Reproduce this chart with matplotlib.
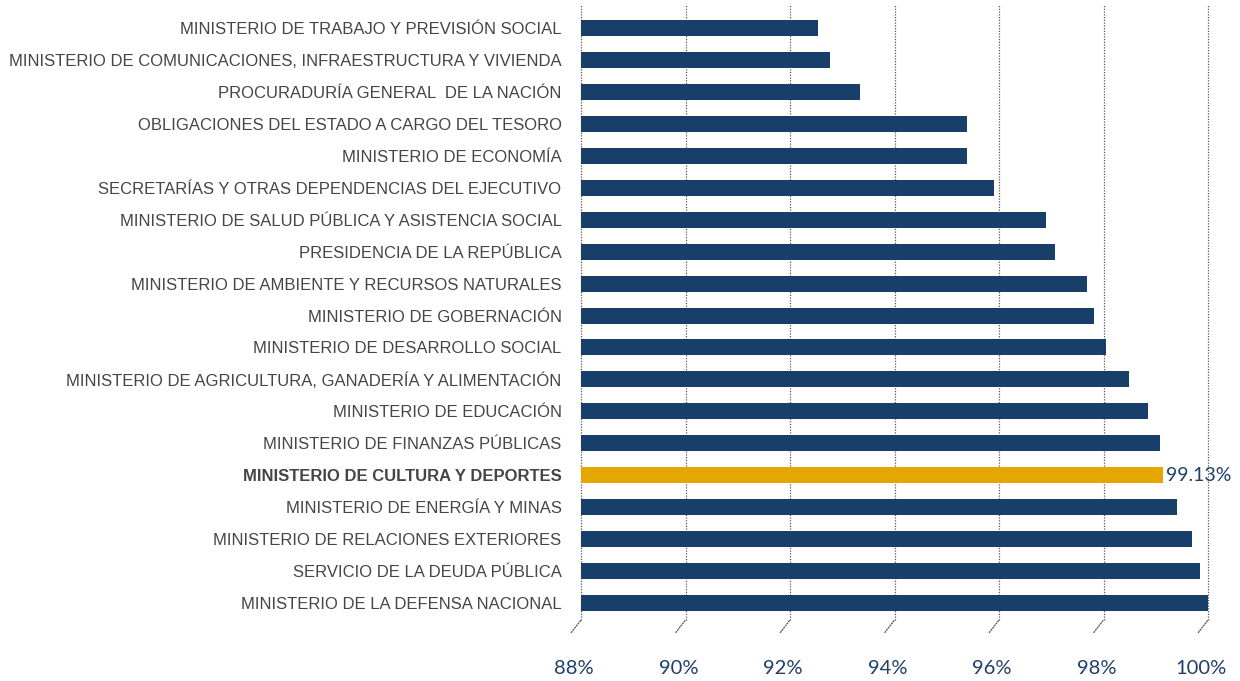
import matplotlib
matplotlib.use("Agg")
import matplotlib.pyplot as plt
from matplotlib.transforms import ScaledTranslation

categories = [
    "MINISTERIO DE TRABAJO Y PREVISIÓN SOCIAL",
    "MINISTERIO DE COMUNICACIONES, INFRAESTRUCTURA Y VIVIENDA",
    "PROCURADURÍA GENERAL  DE LA NACIÓN",
    "OBLIGACIONES DEL ESTADO A CARGO DEL TESORO",
    "MINISTERIO DE ECONOMÍA",
    "SECRETARÍAS Y OTRAS DEPENDENCIAS DEL EJECUTIVO",
    "MINISTERIO DE SALUD PÚBLICA Y ASISTENCIA SOCIAL",
    "PRESIDENCIA DE LA REPÚBLICA",
    "MINISTERIO DE AMBIENTE Y RECURSOS NATURALES",
    "MINISTERIO DE GOBERNACIÓN",
    "MINISTERIO DE DESARROLLO SOCIAL",
    "MINISTERIO DE AGRICULTURA, GANADERÍA Y ALIMENTACIÓN",
    "MINISTERIO DE EDUCACIÓN",
    "MINISTERIO DE FINANZAS PÚBLICAS",
    "MINISTERIO DE CULTURA Y DEPORTES",
    "MINISTERIO DE ENERGÍA Y MINAS",
    "MINISTERIO DE RELACIONES EXTERIORES",
    "SERVICIO DE LA DEUDA PÚBLICA",
    "MINISTERIO DE LA DEFENSA NACIONAL",
]
values = [92.54, 92.77, 93.34, 95.39, 95.39, 95.90, 96.90, 97.07, 97.68, 97.82,
          98.05, 98.49, 98.85, 99.08, 99.13, 99.41, 99.69, 99.85, 100.0]
highlight = "MINISTERIO DE CULTURA Y DEPORTES"
highlight_label = "99.13%"
xticks = [88, 90, 92, 94, 96, 98, 100]
xticklabels = ["88%", "90%", "92%", "94%", "96%", "98%", "100%"]

navy = "#173f69"
gold = "#e5a600"
label_gray = "#454545"
tick_blue = "#1d3f6a"

fig = plt.figure(figsize=(12.4, 6.81), dpi=100)
ax = fig.add_axes([581 / 1240, 1 - 620 / 681, (1208 - 581) / 1240, 615 / 681])

ypos = list(range(len(categories)))
colors = [gold if c == highlight else navy for c in categories]
ax.barh(ypos, [v - 88 for v in values], left=88, height=0.5, color=colors, zorder=3)

ax.set_xlim(88, 100)
ax.set_ylim(18.53, -0.72)

for x in xticks:
    ax.axvline(x, color="#555555", linestyle=(0, (1, 1.2)), linewidth=0.9, zorder=1, clip_on=False)
    ax.annotate("", xy=(x, 0), xycoords=("data", "axes fraction"),
                xytext=(-7, -9), textcoords="offset points",
                arrowprops=dict(arrowstyle="-", linestyle=(0, (1, 1.2)), color="#555555",
                                linewidth=0.9, shrinkA=0, shrinkB=0),
                annotation_clip=False)

ax.set_xticks(xticks)
ax.set_xticklabels(xticklabels, fontsize=14.5, color=tick_blue, family="Lato")
ax.tick_params(axis="x", length=0, pad=29)
shift = ScaledTranslation(-7 / 100, 0, fig.dpi_scale_trans)
for lbl in ax.get_xticklabels():
    lbl.set_transform(lbl.get_transform() + shift)

ax.set_yticks(ypos)
ax.set_yticklabels(categories, fontsize=11.95, color=label_gray, family="Liberation Sans")
ax.tick_params(axis="y", length=0, pad=14)
for lbl in ax.get_yticklabels():
    if lbl.get_text() == highlight:
        lbl.set_fontweight("bold")

for s in ax.spines.values():
    s.set_visible(False)

idx = categories.index(highlight)
ax.text(values[idx] + 0.06, idx, highlight_label, va="center", ha="left",
        fontsize=14, color=tick_blue, family="Lato", zorder=4, clip_on=False)

fig.savefig("out.png", dpi=100)
